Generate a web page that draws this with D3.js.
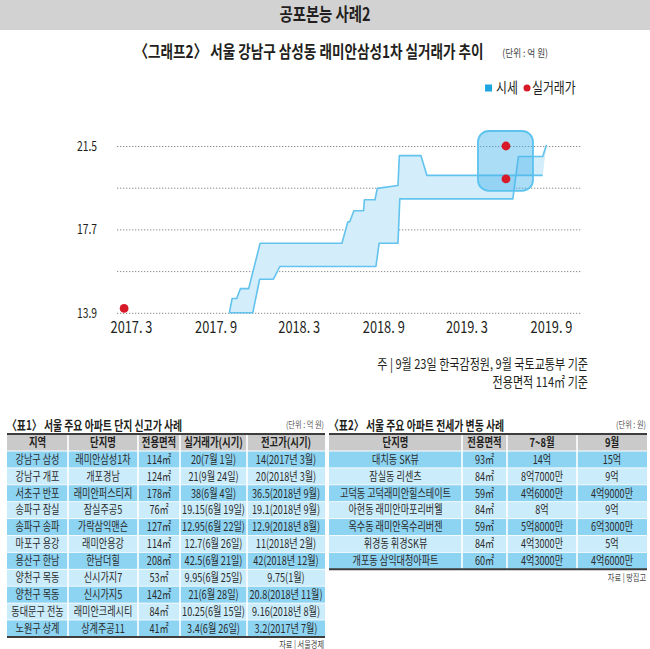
<!DOCTYPE html>
<html>
<head>
<meta charset="utf-8">
<script src="https://cdn.jsdelivr.net/npm/d3@7"></script>
<style>
  body { margin: 0; background: #fff; }
  svg { display: block; }
  text { font-family: "Noto Sans CJK KR", "Noto Sans", sans-serif; fill: #231f20; }
</style>
</head>
<body>
<div id="chart"></div>
<script>
// 그래프2: 래미안삼성1차 시세 범위(상단/하단)와 실거래가
const marketUpper = [
  ['2017-10-01', 13.9], ['2017-10-07', 14.55], ['2017-10-17', 14.55], ['2017-10-25', 15.0],
  ['2017-11-12', 15.0], ['2017-12-07', 17.07], ['2018-06-03', 17.07], ['2018-06-16', 18.05],
  ['2018-06-20', 18.05], ['2018-06-29', 18.55], ['2018-07-20', 18.55], ['2018-07-22', 19.05],
  ['2018-08-14', 19.05], ['2018-08-19', 19.57], ['2018-10-03', 19.7], ['2018-10-06', 21.06],
  ['2018-11-22', 21.06], ['2018-12-05', 20.16], ['2019-08-14', 20.16]
];
const marketLower = [
  ['2017-10-01', 13.9], ['2017-11-21', 13.9], ['2017-12-06', 15.43], ['2018-01-05', 15.43],
  ['2018-01-19', 16.01], ['2018-08-16', 16.01], ['2018-08-23', 17.07], ['2018-10-03', 17.07],
  ['2018-10-07', 19.09], ['2019-06-10', 19.09], ['2019-06-22', 21.02], ['2019-08-14', 21.02],
  ['2019-08-22', 21.55]
];
const deals = [['2017-02-14', 14.1], ['2019-05-26', 21.5], ['2019-05-26', 20.0]];
const yTicks = [13.9, 15.8, 17.7, 19.6, 21.5];
const yLabels = ['13.9', '', '17.7', '', '21.5'];
const xTicks = ['2017-03-01', '2017-09-01', '2018-03-01', '2018-09-01', '2019-03-01', '2019-09-01'];

// 표1: 서울 주요 아파트 단지 신고가 사례
const t1Header = ['지역', '단지명', '전용면적', '실거래가(시기)', '전고가(시기)'];
const t1Region = ['강남구 삼성', '강남구 개포', '서초구 반포', '송파구 잠실', '송파구 송파', '마포구 용강',
  '용산구 한남', '양천구 목동', '양천구 목동', '동대문구 전농', '노원구 상계'];
const t1Complex = ['래미안삼성1차', '개포경남', '래미안퍼스티지', '잠실주공5', '가락삼익맨숀', '래미안용강',
  '한남더힐', '신시가지7', '신시가지5', '래미안크레시티', '상계주공11'];
const t1Area = ['114㎡', '124㎡', '178㎡', '76㎡', '127㎡', '114㎡', '208㎡', '53㎡', '142㎡', '84㎡', '41㎡'];
const t1Deal = ['20(7월 1일)', '21(9월 24일)', '38(6월 4일)', '19.15(6월 19일)', '12.95(6월 22일)',
  '12.7(6월 26일)', '42.5(6월 21일)', '9.95(6월 25일)', '21(6월 28일)', '10.25(6월 15일)', '3.4(6월 26일)'];
const t1Prev = ['14(2017년 3월)', '20(2018년 3월)', '36.5(2018년 9월)', '19.1(2018년 9월)', '12.9(2018년 8월)',
  '11(2018년 2월)', '42(2018년 12월)', '9.75(1월)', '20.8(2018년 11월)', '9.16(2018년 8월)', '3.2(2017년 7월)'];

// 표2: 서울 주요 아파트 전세가 변동 사례
const t2Header = ['단지명', '전용면적', '7~8월', '9월'];
const t2Complex = ['대치동 SK뷰', '잠실동 리센츠', '고덕동 고덕래미안힐스테이트', '아현동 래미안마포리버웰',
  '옥수동 래미안옥수리버젠', '휘경동 휘경SK뷰', '개포동 삼익대청아파트'];
const t2Area = ['93㎡', '84㎡', '59㎡', '84㎡', '59㎡', '84㎡', '60㎡'];
const t2JulAug = ['14억', '8억7000만', '4억6000만', '8억', '5억8000만', '4억3000만', '4억3000만'];
const t2Sep = ['15억', '9억', '4억9000만', '9억', '6억3000만', '5억', '4억6000만'];

const W = 650, H = 649;
const parse = d3.timeParse('%Y-%m-%d');
const BLUE_LINE = '#62c3ee';
const BLUE_FILL = '#d3edfa';
const RED = '#d71a28';

const svg = d3.select('#chart').append('svg')
  .attr('width', W)
  .attr('height', H);

svg.append('rect').attr('width', W).attr('height', H).attr('fill', '#fff');

// condensed newspaper type: squeeze text horizontally around its anchor
function label(parent, str, x, y, o = {}) {
  const sx = o.sx || 0.78;
  return parent.append('text')
    .attr('transform', `translate(${x},${y}) scale(${sx},1)`)
    .attr('text-anchor', o.anchor || 'start')
    .attr('dy', '0.36em')
    .style('font-size', (o.size || 12) + 'px')
    .style('font-weight', o.weight || 400)
    .style('fill', o.color || '#231f20')
    .text(str);
}

function condense(sel, sx) {
  sel.each(function() {
    const t = d3.select(this);
    const x = +t.attr('x') || 0;
    t.attr('transform', `translate(${x * (1 - sx)},0) scale(${sx},1)`);
  });
}

// header bar
svg.append('rect')
  .attr('x', 0).attr('y', 0)
  .attr('width', W).attr('height', 30)
  .attr('fill', '#d2d2d2');
label(svg, '공포본능 사례2', 325, 15, { size: 18, weight: 700, anchor: 'middle', sx: 0.8 });

// chart title
const titleG = svg.append('g');
label(titleG, '〈그래프2〉 서울 강남구 삼성동 래미안삼성1차 실거래가 추이', 309, 52,
  { size: 17, weight: 700, anchor: 'middle', sx: 0.8 });
label(titleG, '(단위 : 억 원)', 548, 53, { size: 10.5, anchor: 'end', sx: 0.82, color: '#444' });

// legend
svg.append('rect')
  .attr('x', 485).attr('y', 84.5)
  .attr('width', 7).attr('height', 7)
  .attr('fill', '#1ea6e2');
label(svg, '시세', 496, 88, { size: 14.5, sx: 0.82 });
svg.append('circle')
  .attr('cx', 527).attr('cy', 88).attr('r', 3.5)
  .attr('fill', RED);
label(svg, '실거래가', 532, 88, { size: 14.5, sx: 0.82 });

// scales
const x = d3.scaleTime()
  .domain([parse('2017-03-01'), parse('2019-09-01')])
  .range([131, 551]);
const y = d3.scaleLinear()
  .domain([13.9, 21.5])
  .range([312.8, 146]);

// grid + y labels
const yAxis = svg.append('g')
  .attr('transform', 'translate(117,0)')
  .call(d3.axisLeft(y)
    .tickValues(yTicks)
    .tickSize(-465)
    .tickPadding(20)
    .tickFormat((d, i) => yLabels[i]));
yAxis.select('.domain').remove();
yAxis.selectAll('line')
  .attr('stroke', '#8a8a8a')
  .attr('stroke-width', 1)
  .attr('stroke-dasharray', '1.3,1.7');
yAxis.selectAll('text')
  .style('font-size', '14px')
  .style('fill', '#231f20');
condense(yAxis.selectAll('text'), 0.74);

// x labels
const xAxis = svg.append('g')
  .attr('transform', 'translate(0,313)')
  .call(d3.axisBottom(x)
    .tickValues(xTicks.map(parse))
    .tickSize(0)
    .tickPadding(9)
    .tickFormat(d3.timeFormat('%Y. %-m')));
xAxis.select('.domain').remove();
xAxis.selectAll('text')
  .style('font-size', '16px')
  .style('fill', '#231f20');
condense(xAxis.selectAll('text'), 0.8);

// market price band
const upper = marketUpper.map(d => ({ date: parse(d[0]), value: d[1] }));
const lower = marketLower.map(d => ({ date: parse(d[0]), value: d[1] }));
const line = d3.line()
  .x(d => x(d.date))
  .y(d => y(d.value));

svg.append('path')
  .attr('d', line(upper.concat(lower.slice().reverse())) + 'Z')
  .attr('fill', BLUE_FILL);

[upper, lower].forEach(series => {
  svg.append('path')
    .attr('d', line(series))
    .attr('fill', 'none')
    .attr('stroke', BLUE_LINE)
    .attr('stroke-width', 1.6)
    .attr('stroke-linejoin', 'round');
});

// highlight box round the latest deals
const dealPts = deals.map(d => ({ date: parse(d[0]), value: d[1] }));
const recent = dealPts.slice(1);
const bx = x(recent[0].date);
const byTop = y(d3.max(recent, d => d.value)) - 15;
const byBot = y(d3.min(recent, d => d.value)) + 12;
svg.append('rect')
  .attr('x', bx - 28)
  .attr('y', byTop)
  .attr('width', 55)
  .attr('height', byBot - byTop)
  .attr('rx', 11)
  .attr('fill', 'rgba(70,180,236,0.45)')
  .attr('stroke', '#5cc2ee')
  .attr('stroke-width', 1.8);

// deal dots
svg.selectAll('.deal')
  .data(dealPts)
  .enter()
  .append('circle')
  .attr('class', 'deal')
  .attr('cx', d => x(d.date))
  .attr('cy', d => y(d.value))
  .attr('r', 4.4)
  .attr('fill', RED);

// footnote
label(svg, '주 | 9월 23일 한국감정원, 9월 국토교통부 기준', 588, 364, { size: 13.5, anchor: 'end', sx: 0.82 });
label(svg, '전용면적 114㎡ 기준', 588, 382.5, { size: 13.5, anchor: 'end', sx: 0.82 });

// tables
const ROW_DARK = '#8dd3f2';
const ROW_LIGHT = '#cbecfa';

function drawTable(cfg) {
  const g = svg.append('g');
  const edges = cfg.edges;
  const left = edges[0], right = edges[edges.length - 1];
  const rows = d3.zip(...cfg.columns);

  label(g, cfg.title, left, 425, { size: 13, weight: 700, sx: 0.76 });
  label(g, cfg.unit, right - 1, 425, { size: 9, sx: 0.8, anchor: 'end', color: '#555' });

  const rowY = d3.scaleBand()
    .domain(d3.range(rows.length))
    .range([451, 451 + rows.length * 16.9]);
  const bottom = rowY.range()[1];

  // header
  g.append('rect')
    .attr('x', left).attr('y', 434)
    .attr('width', right - left).attr('height', 17)
    .attr('fill', '#cacaca');
  cfg.header.forEach((h, i) => {
    label(g, h, (edges[i] + edges[i + 1]) / 2, 442.5, { size: 12, weight: 700, anchor: 'middle', sx: 0.78 });
  });

  // body rows
  g.selectAll('.row-bg')
    .data(rows)
    .enter()
    .append('rect')
    .attr('x', left)
    .attr('y', (d, i) => rowY(i))
    .attr('width', right - left)
    .attr('height', rowY.bandwidth())
    .attr('fill', (d, i) => i % 2 === 0 ? ROW_DARK : ROW_LIGHT);

  rows.forEach((row, r) => {
    row.forEach((cell, c) => {
      label(g, cell, (edges[c] + edges[c + 1]) / 2, rowY(r) + rowY.bandwidth() / 2,
        { size: 12, anchor: 'middle', sx: 0.76, color: '#2b2b2b' });
    });
    if (r > 0) {
      g.append('line')
        .attr('x1', left).attr('x2', right)
        .attr('y1', rowY(r)).attr('y2', rowY(r))
        .attr('stroke', '#fff').attr('stroke-width', 0.8);
    }
  });

  // column dividers
  edges.slice(1, -1).forEach(e => {
    g.append('line')
      .attr('x1', e).attr('x2', e)
      .attr('y1', 434).attr('y2', bottom)
      .attr('stroke', '#fff').attr('stroke-width', 1.6);
  });

  g.append('line')
    .attr('x1', left).attr('x2', right)
    .attr('y1', 451).attr('y2', 451)
    .attr('stroke', '#fff').attr('stroke-width', 1);
  g.append('line')
    .attr('x1', left).attr('x2', right)
    .attr('y1', 434).attr('y2', 434)
    .attr('stroke', '#3d3d3d').attr('stroke-width', 2);
  g.append('line')
    .attr('x1', left).attr('x2', right)
    .attr('y1', bottom).attr('y2', bottom)
    .attr('stroke', '#3d3d3d').attr('stroke-width', 2);

  label(g, cfg.source, right - 1, bottom + 8, { size: 9, sx: 0.8, anchor: 'end', color: '#444' });
}

drawTable({
  title: '〈표1〉 서울 주요 아파트 단지 신고가 사례',
  unit: '(단위 : 억 원)',
  source: '자료 | 서울경제',
  edges: [7, 68, 138, 180, 247, 325],
  header: t1Header,
  columns: [t1Region, t1Complex, t1Area, t1Deal, t1Prev]
});

drawTable({
  title: '〈표2〉 서울 주요 아파트 전세가 변동 사례',
  unit: '(단위 : 원)',
  source: '자료 | 땅집고',
  edges: [329, 462, 507, 577, 647],
  header: t2Header,
  columns: [t2Complex, t2Area, t2JulAug, t2Sep]
});
</script>
</body>
</html>
